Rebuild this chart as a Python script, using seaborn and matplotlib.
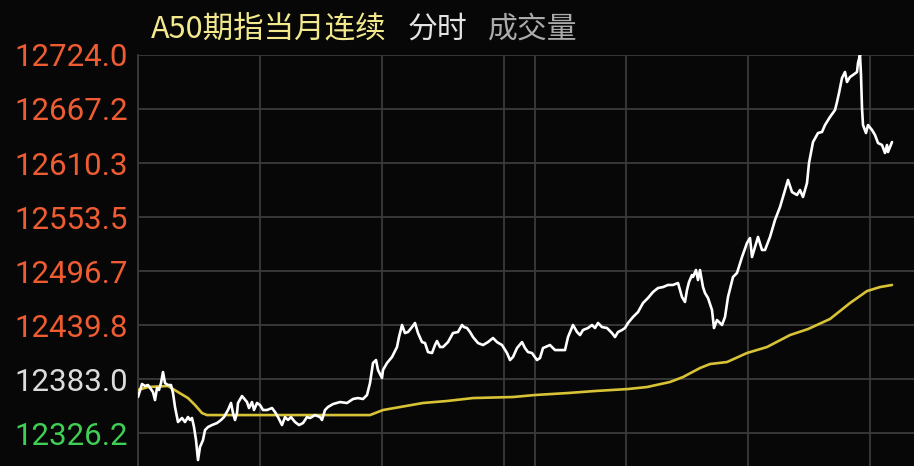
import matplotlib
matplotlib.use('Agg')
import matplotlib.pyplot as plt
import seaborn as sns
import pandas as pd

# price line (x = time index, one unit per pixel column of the original)
price_t = [0, 4, 7, 10, 15, 17, 19, 21, 23, 25, 27, 30, 33, 35, 37, 40, 44, 47, 50, 52,
           54, 56, 58, 60, 62, 65, 67, 70, 74, 79, 83, 86, 90, 93, 95, 97, 99, 100, 104, 109,
           111, 114, 116, 119, 122, 125, 129, 134, 137, 140, 144, 147, 150, 153, 157, 161, 165, 169, 172, 177,
           182, 184, 187, 190, 195, 202, 209, 215, 220, 225, 229, 232, 235, 238, 240, 244, 245, 249, 254, 259,
           261, 264, 267, 270, 274, 277, 280, 284, 287, 290, 294, 297, 299, 302, 305, 310, 315, 320, 324, 326,
           329, 332, 335, 340, 345, 350, 355, 359, 364, 369, 372, 375, 379, 384, 387, 390, 394, 399, 402, 405,
           412, 417, 427, 430, 435, 439, 442, 445, 450, 454, 457, 460, 464, 469, 474, 477, 480, 484, 487, 490,
           495, 500, 505, 510, 515, 520, 525, 530, 535, 540, 544, 547, 549, 551, 554, 555, 558, 560, 562, 565,
           567, 570, 574, 576, 579, 582, 584, 587, 590, 595, 599, 604, 609, 612, 614, 617, 620, 624, 627, 632,
           637, 642, 647, 650, 654, 659, 662, 665, 669, 671, 675, 680, 684, 687, 692, 697, 699, 701, 704, 707,
           709, 712, 715, 719, 720, 722, 723, 724, 725, 728, 730, 734, 737, 740, 744, 747, 749, 750, 754]
price = [12364.1, 12377.8, 12375.7, 12376.7, 12369.3, 12360.9, 12373.6, 12371.5, 12378.8, 12390.4,
         12378.8, 12376.7, 12376.7, 12368.3, 12353.6, 12337.8, 12342.0, 12337.8, 12343.0, 12339.9,
         12342.0, 12332.5, 12318.8, 12297.8, 12311.5, 12318.8, 12329.3, 12332.5, 12334.6, 12336.7,
         12339.9, 12343.0, 12350.4, 12357.8, 12347.2, 12339.9, 12347.2, 12357.8, 12365.1, 12358.8,
         12352.5, 12358.8, 12350.4, 12357.8, 12355.7, 12350.4, 12350.4, 12352.5, 12348.3, 12343.0,
         12334.6, 12343.0, 12339.9, 12343.0, 12337.8, 12334.6, 12336.7, 12343.0, 12342.0, 12345.1,
         12343.0, 12339.9, 12350.4, 12353.6, 12356.7, 12358.8, 12357.8, 12362.0, 12363.0, 12362.0,
         12366.2, 12378.8, 12399.9, 12403.0, 12392.5, 12384.1, 12392.5, 12399.9, 12406.2, 12416.7,
         12427.2, 12439.9, 12431.4, 12432.5, 12437.7, 12442.0, 12431.4, 12421.9, 12420.9, 12411.4,
         12410.4, 12418.8, 12423.0, 12416.7, 12416.7, 12421.9, 12431.4, 12432.5, 12439.9, 12437.7,
         12436.7, 12432.5, 12427.2, 12420.9, 12418.8, 12421.9, 12426.2, 12421.9, 12418.8, 12410.4,
         12403.0, 12406.2, 12415.6, 12421.9, 12415.6, 12411.4, 12410.4, 12403.0, 12405.1, 12415.6,
         12418.8, 12413.5, 12413.5, 12427.2, 12439.9, 12432.5, 12429.3, 12434.6, 12436.7, 12439.9,
         12436.7, 12442.0, 12437.7, 12436.7, 12431.4, 12427.2, 12432.5, 12434.6, 12436.7, 12442.0,
         12448.3, 12453.5, 12463.0, 12468.3, 12474.6, 12478.8, 12479.8, 12482.0, 12482.0, 12484.1,
         12469.3, 12464.1, 12476.7, 12485.1, 12492.5, 12490.4, 12497.7, 12487.2, 12497.7, 12479.8,
         12473.5, 12468.3, 12455.6, 12436.7, 12445.1, 12442.0, 12439.9, 12448.3, 12469.3, 12490.4,
         12494.6, 12511.4, 12526.2, 12531.4, 12511.4, 12522.0, 12532.5, 12518.8, 12518.8, 12532.5,
         12550.4, 12564.0, 12581.9, 12592.5, 12579.8, 12576.7, 12581.9, 12574.6, 12589.3, 12610.3,
         12632.4, 12641.9, 12643.0, 12650.3, 12658.8, 12666.1, 12674.5, 12684.0, 12699.8, 12706.1,
         12695.6, 12700.8, 12703.0, 12706.1, 12715.6, 12724.0, 12703.0, 12668.2, 12650.3, 12641.9,
         12650.3, 12645.1, 12639.8, 12631.4, 12629.3, 12620.9, 12629.3, 12621.9, 12632.4]

# average price line
avg_t = [0, 10, 30, 40, 50, 57, 64, 69, 197, 232, 245, 285, 309, 335, 375, 397, 430, 457,
         490, 509, 532, 545, 562, 572, 589, 609, 629, 652, 670, 692, 712, 729, 742, 754]
avg = [12371.5, 12374.6, 12375.7, 12369.3, 12363.0, 12355.7, 12347.2, 12345.1, 12345.1, 12345.1,
       12350.4, 12357.8, 12359.9, 12363.0, 12364.1, 12366.2, 12368.3, 12370.4, 12372.5, 12374.6,
       12379.9, 12385.1, 12394.6, 12398.8, 12400.9, 12410.4, 12416.7, 12429.3, 12435.6, 12446.2,
       12463.0, 12475.6, 12479.8, 12482.0]

y_ticks = [12724.0, 12667.2, 12610.3, 12553.5, 12496.7, 12439.8, 12383.0, 12326.2]
y_labels = ['12724.0', '12667.2', '12610.3', '12553.5', '12496.7', '12439.8', '12383.0', '12326.2']
pre_close = 12383.0
x_grid = [0, 122, 244, 366, 397, 488, 610, 732]

bg = '#070707'
sns.set_style('dark', {'axes.facecolor': bg, 'figure.facecolor': bg})
plt.rcParams['font.family'] = ['Noto Sans CJK SC', 'DejaVu Sans']

fig = plt.figure(figsize=(9.14, 4.66), dpi=100)
ax = fig.add_axes([138 / 914, 0, 776 / 914, 411 / 466])
ax.set_facecolor(bg)

df_price = pd.DataFrame({'t': price_t, 'v': price})
df_avg = pd.DataFrame({'t': avg_t, 'v': avg})
sns.lineplot(data=df_avg, x='t', y='v', ax=ax, color='#d8c236', lw=1.9, zorder=3)
sns.lineplot(data=df_price, x='t', y='v', ax=ax, color='white', lw=1.9, zorder=4)

ax.set_xlim(0, 776)
ax.set_ylim(12291.5, 12724.0)
ax.set_xticks(x_grid)
ax.set_xticklabels([])
ax.set_yticks(y_ticks)
ax.set_yticklabels(y_labels, fontsize=22.5, family='Roboto')
ax.tick_params(axis='both', length=0)
ax.tick_params(axis='y', pad=7)
for lab, val in zip(ax.get_yticklabels(), y_ticks):
    if val > pre_close:
        lab.set_color('#ef5c32')
    elif val < pre_close:
        lab.set_color('#3fcf55')
    else:
        lab.set_color('#dcdcdc')
ax.set_xlabel('')
ax.set_ylabel('')
ax.grid(True, color='#3a3a3a', lw=1.3)
for s in ['top', 'right', 'bottom']:
    ax.spines[s].set_visible(False)
ax.spines['left'].set_color('#3a3a3a')
ax.spines['left'].set_linewidth(1.3)

fig.text(151 / 914, 1 - 29 / 466, 'A50期指当月连续', color='#f2e98c', fontsize=22, va='center', ha='left')
fig.text(408 / 914, 1 - 29 / 466, '分时', color='#e4e4e4', fontsize=21.5, va='center', ha='left')
fig.text(488 / 914, 1 - 29 / 466, '成交量', color='#ababab', fontsize=21.5, va='center', ha='left')

fig.savefig('out.png', dpi=100, facecolor=bg)
